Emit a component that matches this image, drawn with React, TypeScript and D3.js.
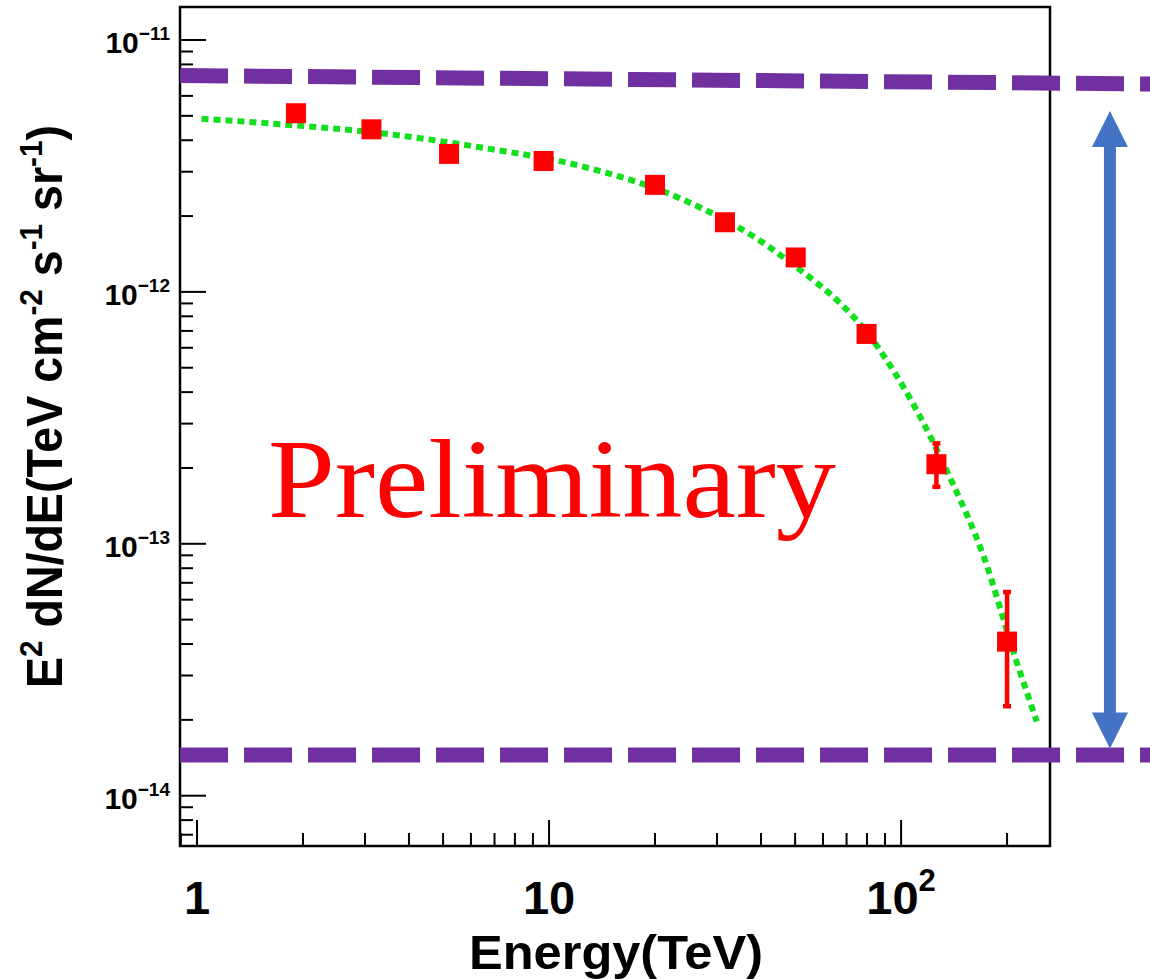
import React from "react";
import * as d3 from "d3";

// ---- data ----
const energies = [1.91, 3.13, 5.2, 9.65, 20.0, 31.6, 50.2, 79.8, 126, 200];
const fluxes = [5.12e-12, 4.42e-12, 3.53e-12, 3.31e-12, 2.66e-12, 1.89e-12, 1.37e-12, 6.81e-13, 2.07e-13, 4.09e-14];
const errHigh = [null, null, null, null, null, null, null, null, 2.51e-13, 6.45e-14];
const errLow = [null, null, null, null, null, null, null, null, 1.68e-13, 2.26e-14];

const fitE = [1.03, 1.72, 3.31, 6.36, 12.3, 23.6, 45.4, 87.0, 105.9, 138, 171.7, 212, 243];
const fitF = [4.87e-12, 4.63e-12, 4.27e-12, 3.75e-12, 3.16e-12, 2.35e-12, 1.40e-12, 5.88e-13, 3.79e-13, 1.82e-13, 8.89e-14, 3.46e-14, 1.97e-14];

// purple dashed reference levels (start / end energy and flux)
const topLevelE = [0.895, 510];
const topLevelF = [7.23e-12, 6.69e-12];
const bottomLevelE = [0.895, 510];
const bottomLevelF = [1.45e-14, 1.45e-14];

// blue double arrow
const arrowE = 392;
const arrowTopF = 5.23e-12;
const arrowBottomF = 1.54e-14;

const xMajor = [1, 10, 100];
const xMajorLabels = ["1", "10", "10"];
const xMajorSup = ["", "", "2"];
const yMajor = [1e-11, 1e-12, 1e-13, 1e-14];
const yMajorSup = ["−11", "−12", "−13", "−14"];

const W = 1150, H = 979;
const L = 180, R = 1050, T = 7, B = 846;

export default function App() {
  const x = d3.scaleLog().domain([Math.pow(10, -0.0483), Math.pow(10, 2.423)]).range([L, R]);
  const y = d3.scaleLog().domain([Math.pow(10, -14.1997), Math.pow(10, -10.869)]).range([B, T]);

  const [x0, x1] = x.domain();
  const [y0, y1] = y.domain();
  const xMinor: number[] = [];
  for (let p = -1; p <= 3; p++) for (let m = 2; m <= 9; m++) {
    const v = m * Math.pow(10, p);
    if (v >= x0 && v <= x1) xMinor.push(v);
  }
  const yMinor: number[] = [];
  for (let p = -16; p <= -10; p++) for (let m = 2; m <= 9; m++) {
    const v = m * Math.pow(10, p);
    if (v >= y0 && v <= y1) yMinor.push(v);
  }

  const fitLine = d3.line<number>()
    .x((_, i) => x(fitE[i]))
    .y((d) => y(d))
    .curve(d3.curveMonotoneX);

  const purple = "#7030A0";
  const ax = x(arrowE);
  const ayTop = y(arrowTopF);
  const ayBot = y(arrowBottomF);
  const headL = 36, headW = 18, shaftW = 6;
  const arrowPath = [
    [ax, ayTop], [ax + headW, ayTop + headL], [ax + shaftW, ayTop + headL],
    [ax + shaftW, ayBot - headL], [ax + headW, ayBot - headL], [ax, ayBot],
    [ax - headW, ayBot - headL], [ax - shaftW, ayBot - headL], [ax - shaftW, ayTop + headL],
    [ax - headW, ayTop + headL],
  ].map((p) => p.join(",")).join(" ");

  const sans = "'Liberation Sans', Arial, sans-serif";

  return (
    <svg width={W} height={H} style={{ position: "absolute", left: 0, top: 0, background: "#fff" }}>
      <rect x={0} y={0} width={W} height={H} fill="#fff" />
      {/* ticks */}
      {xMajor.map((v) => (
        <line key={"xM" + v} x1={x(v)} x2={x(v)} y1={B} y2={B - 26} stroke="#000" strokeWidth={2} />
      ))}
      {xMinor.map((v) => (
        <line key={"xm" + v} x1={x(v)} x2={x(v)} y1={B} y2={B - 13} stroke="#000" strokeWidth={2} />
      ))}
      {yMajor.map((v) => (
        <line key={"yM" + v} x1={L} x2={L + 26} y1={y(v)} y2={y(v)} stroke="#000" strokeWidth={2} />
      ))}
      {yMinor.map((v) => (
        <line key={"ym" + v} x1={L} x2={L + 13} y1={y(v)} y2={y(v)} stroke="#000" strokeWidth={2} />
      ))}

      {/* fit curve */}
      <path d={fitLine(fitF) || ""} fill="none" stroke="#12E01E" strokeWidth={6} strokeDasharray="7 5" />

      {/* data points */}
      {energies.map((e, i) => (
        <g key={"p" + i}>
          {errHigh[i] != null && (
            <>
              <line x1={x(e)} x2={x(e)} y1={y(errHigh[i] as number)} y2={y(errLow[i] as number)} stroke="#FF0000" strokeWidth={4.5} />
              <rect x={x(e) - 4} y={y(errHigh[i] as number) - 2} width={8} height={4.5} fill="#FF0000" />
              <rect x={x(e) - 4} y={y(errLow[i] as number) - 2.5} width={8} height={4.5} fill="#FF0000" />
            </>
          )}
          <rect x={x(e) - 10} y={y(fluxes[i]) - 10} width={20} height={20} fill="#FF0000" />
        </g>
      ))}

      {/* Preliminary */}
      <text x={268} y={517} fontFamily="'Liberation Serif', 'Times New Roman', serif" fontSize={112}
        fill="#FF0000" textLength={568} lengthAdjust="spacingAndGlyphs">Preliminary</text>

      {/* frame */}
      <rect x={L} y={T} width={R - L} height={B - T} fill="none" stroke="#000" strokeWidth={2.5} />

      {/* purple dashed levels */}
      <line x1={x(topLevelE[0])} x2={x(topLevelE[1])} y1={y(topLevelF[0])} y2={y(topLevelF[1])}
        stroke={purple} strokeWidth={15} strokeDasharray="48 16" />
      <line x1={x(bottomLevelE[0])} x2={x(bottomLevelE[1])} y1={y(bottomLevelF[0])} y2={y(bottomLevelF[1])}
        stroke={purple} strokeWidth={15} strokeDasharray="48 16" />

      {/* blue double arrow */}
      <polygon points={arrowPath} fill="#4472C4" />

      {/* y tick labels */}
      {yMajor.map((v, i) => (
        <text key={"yl" + v} x={170} y={y(v) + 13} textAnchor="end" fontFamily={sans} fontWeight="bold" fontSize={30} fill="#000">
          10<tspan fontSize={19} dy={-13}>{yMajorSup[i]}</tspan>
        </text>
      ))}

      {/* x tick labels */}
      {xMajor.map((v, i) => (
        <text key={"xl" + v} x={x(v)} y={914} textAnchor="middle" fontFamily={sans} fontWeight="bold" fontSize={47} fill="#000">
          {xMajorLabels[i]}
          {xMajorSup[i] && <tspan fontSize={31} dy={-23}>{xMajorSup[i]}</tspan>}
        </text>
      ))}

      {/* axis titles */}
      <text x={(L + R) / 2 + 1} y={969} textAnchor="middle" fontFamily={sans} fontWeight="bold" fontSize={48} fill="#000"
        textLength={294} lengthAdjust="spacingAndGlyphs">
        Energy(TeV)
      </text>
      <text transform={`translate(62, ${(125 + 688) / 2}) rotate(-90)`} textAnchor="middle" fontFamily={sans}
        fontWeight="bold" fontSize={50} fill="#000" textLength={563} lengthAdjust="spacingAndGlyphs">
        E<tspan fontSize={32} dy={-20}>2</tspan><tspan dy={20}> dN/dE(TeV cm</tspan><tspan fontSize={32} dy={-20}>-2</tspan><tspan dy={20}> s</tspan><tspan fontSize={32} dy={-20}>-1</tspan><tspan dy={20}> sr</tspan><tspan fontSize={32} dy={-20}>-1</tspan><tspan dy={20}>)</tspan>
      </text>
    </svg>
  );
}
